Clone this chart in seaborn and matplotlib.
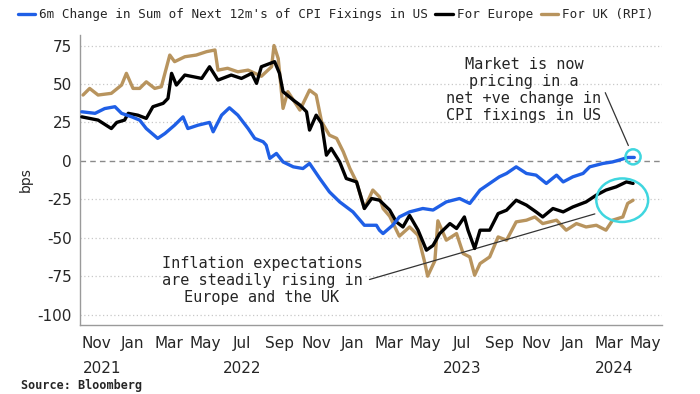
import pandas as pd
import matplotlib
matplotlib.use("Agg")
import matplotlib.pyplot as plt
import matplotlib.dates as mdates
from matplotlib.patches import Ellipse
import seaborn as sns

# 6m change in sum of next 12m CPI fixings (bps)
us_dates = ["2021-10-08", "2021-10-30", "2021-11-15", "2021-12-02", "2021-12-13", "2021-12-30",
            "2022-01-12", "2022-01-23", "2022-02-11", "2022-02-23", "2022-03-11", "2022-03-25",
            "2022-04-02", "2022-04-19", "2022-05-08", "2022-05-14", "2022-05-28", "2022-06-10",
            "2022-06-24", "2022-07-11", "2022-07-22", "2022-08-05", "2022-08-10", "2022-08-16",
            "2022-08-27", "2022-09-07", "2022-09-24", "2022-10-10", "2022-10-21", "2022-11-07",
            "2022-11-23", "2022-12-10", "2023-01-01", "2023-01-20", "2023-02-09", "2023-02-14",
            "2023-02-20", "2023-03-08", "2023-03-19", "2023-04-05", "2023-04-27", "2023-05-14",
            "2023-06-05", "2023-06-27", "2023-07-14", "2023-07-31", "2023-08-16", "2023-09-01",
            "2023-09-13", "2023-09-29", "2023-10-16", "2023-11-01", "2023-11-18", "2023-12-05",
            "2023-12-16", "2024-01-01", "2024-01-18", "2024-01-29", "2024-02-20", "2024-03-07",
            "2024-03-18", "2024-04-01", "2024-04-12"]
us_vals = [31.9, 30.9, 34.0, 35.2, 30.9, 28.6,
           26.5, 21.0, 14.6, 17.8, 23.2, 28.6,
           21.0, 23.2, 25.0, 18.9, 29.7, 34.5,
           29.7, 21.0, 14.6, 12.4, 10.2, 1.6,
           4.8, -0.7, -3.9, -5.0, -1.7, -11.5,
           -20.2, -26.7, -33.2, -41.9, -41.9, -45.1,
           -47.3, -41.9, -36.5, -33.2, -31.0, -32.0,
           -26.7, -24.5, -27.7, -19.0, -14.7, -10.4,
           -8.2, -3.9, -8.2, -9.3, -14.7, -9.3,
           -13.7, -10.4, -8.2, -3.9, -1.7, -0.7,
           0.5, 2.2, 2.2]

eu_dates = ["2021-10-08", "2021-11-04", "2021-11-26", "2021-12-05", "2021-12-18", "2021-12-24",
            "2022-01-09", "2022-01-23", "2022-02-03", "2022-02-20", "2022-02-28", "2022-03-06",
            "2022-03-14", "2022-03-28", "2022-04-25", "2022-05-08", "2022-05-22", "2022-06-13",
            "2022-06-30", "2022-07-17", "2022-07-25", "2022-08-02", "2022-08-24", "2022-09-01",
            "2022-09-07", "2022-09-24", "2022-10-05", "2022-10-16", "2022-10-21", "2022-11-01",
            "2022-11-10", "2022-11-18", "2022-11-26", "2022-12-10", "2022-12-21", "2023-01-07",
            "2023-01-20", "2023-02-01", "2023-02-14", "2023-03-03", "2023-03-14", "2023-03-25",
            "2023-04-05", "2023-04-19", "2023-05-03", "2023-05-14", "2023-05-25", "2023-06-11",
            "2023-06-22", "2023-07-05", "2023-07-11", "2023-07-22", "2023-07-31", "2023-08-16",
            "2023-08-30", "2023-09-13", "2023-09-29", "2023-10-16", "2023-11-01", "2023-11-12",
            "2023-11-29", "2023-12-16", "2024-01-01", "2024-01-23", "2024-02-09", "2024-02-25",
            "2024-03-13", "2024-03-30", "2024-04-10"]
eu_vals = [28.6, 26.5, 21.0, 25.0, 26.5, 30.9,
           29.7, 27.6, 35.2, 37.4, 40.6, 56.9,
           49.3, 55.8, 53.6, 61.2, 52.5, 55.8,
           53.6, 56.9, 50.4, 61.2, 64.5, 57.0,
           45.0, 39.5, 36.3, 31.9, 20.0, 29.7,
           24.3, 3.7, 8.1, -0.7, -11.5, -13.7,
           -31.0, -24.5, -25.6, -32.0, -39.7, -43.0,
           -35.5, -45.0, -58.1, -55.0, -47.3, -40.8,
           -44.0, -36.5, -45.1, -57.0, -45.1, -45.1,
           -34.3, -32.1, -25.6, -28.8, -33.2, -36.5,
           -31.0, -33.2, -30.0, -26.7, -22.3, -19.0,
           -16.9, -13.7, -14.7]

uk_dates = ["2021-10-10", "2021-10-21", "2021-11-04", "2021-11-26", "2021-12-13", "2021-12-21",
            "2022-01-01", "2022-01-12", "2022-01-23", "2022-02-06", "2022-02-17", "2022-03-03",
            "2022-03-11", "2022-03-28", "2022-04-16", "2022-05-03", "2022-05-17", "2022-05-22",
            "2022-06-07", "2022-06-24", "2022-07-11", "2022-08-02", "2022-08-19", "2022-08-23",
            "2022-08-30", "2022-09-07", "2022-09-15", "2022-10-05", "2022-10-21", "2022-11-01",
            "2022-11-10", "2022-11-23", "2022-12-05", "2022-12-16", "2022-12-27", "2023-01-07",
            "2023-01-20", "2023-02-03", "2023-02-14", "2023-02-20", "2023-03-03", "2023-03-19",
            "2023-04-05", "2023-04-19", "2023-04-30", "2023-05-05", "2023-05-17", "2023-05-22",
            "2023-06-05", "2023-06-22", "2023-07-03", "2023-07-14", "2023-07-22", "2023-07-31",
            "2023-08-16", "2023-08-30", "2023-09-13", "2023-09-29", "2023-10-16", "2023-10-30",
            "2023-11-12", "2023-12-05", "2023-12-21", "2024-01-07", "2024-01-23", "2024-02-09",
            "2024-02-25", "2024-03-07", "2024-03-24", "2024-04-01", "2024-04-10"]
uk_vals = [42.8, 47.1, 42.8, 43.9, 49.3, 56.9,
           47.1, 47.1, 51.4, 47.1, 48.2, 68.8,
           64.5, 67.7, 68.8, 71.0, 72.1, 59.0,
           60.2, 57.9, 59.0, 55.0, 61.2, 75.0,
           66.5, 34.1, 45.0, 33.0, 46.0, 42.8,
           25.4, 16.7, 14.6, 5.9, -5.0, -13.7,
           -31.0, -19.0, -23.4, -31.0, -36.0, -49.0,
           -43.0, -48.4, -65.8, -75.0, -65.0, -39.0,
           -51.6, -47.3, -60.3, -62.5, -74.4, -66.8,
           -62.5, -49.5, -51.6, -39.7, -38.6, -36.5,
           -40.8, -38.6, -45.1, -40.8, -43.0, -41.9,
           -45.1, -38.6, -36.5, -27.7, -25.6]

series_labels = ["6m Change in Sum of Next 12m's of CPI Fixings in US", "For Europe", "For UK (RPI)"]
series_colors = ["#1f5fe6", "#000000", "#b8945e"]
y_ticks = [75, 50, 25, 0, -25, -50, -75, -100]
year_labels = ["2021", "2022", "2023", "2024"]
year_pos = ["2021-11-10", "2022-07-01", "2023-07-01", "2024-03-10"]

df_us = pd.DataFrame({"date": pd.to_datetime(us_dates), "bps": us_vals})
df_eu = pd.DataFrame({"date": pd.to_datetime(eu_dates), "bps": eu_vals})
df_uk = pd.DataFrame({"date": pd.to_datetime(uk_dates), "bps": uk_vals})

sns.set_style("white")
plt.rcParams["axes.unicode_minus"] = False
plt.rcParams["font.family"] = ["DejaVu Sans"]

fig = plt.figure(figsize=(7.0, 3.94), dpi=100)
ax = fig.add_axes([0.1143, 0.175, 0.8314, 0.736])

# gridlines
for v in y_ticks:
    if v == 0:
        ax.axhline(v, color="#8a8a8a", lw=1.0, ls=(0, (4, 3)), zorder=1)
    else:
        ax.axhline(v, color="#c8c8c8", lw=0.9, ls=(0, (1, 2)), zorder=1)

sns.lineplot(data=df_uk, x="date", y="bps", color=series_colors[2], lw=2.4, label=series_labels[2], ax=ax, zorder=3)
sns.lineplot(data=df_eu, x="date", y="bps", color=series_colors[1], lw=2.4, label=series_labels[1], ax=ax, zorder=4)
sns.lineplot(data=df_us, x="date", y="bps", color=series_colors[0], lw=2.4, label=series_labels[0], ax=ax, zorder=5)

ax.set_xlim(pd.Timestamp("2021-10-05"), pd.Timestamp("2024-05-28"))
ax.set_ylim(-106.8, 81.8)
ax.set_yticks(y_ticks)
ax.set_xlabel("")
ax.set_ylabel("bps", fontsize=10, labelpad=3)

ax.xaxis.set_major_locator(mdates.MonthLocator(bymonth=[1, 3, 5, 7, 9, 11]))
ax.xaxis.set_major_formatter(mdates.DateFormatter("%b"))
ax.tick_params(axis="x", direction="in", length=3, color="#999999", labelsize=11, pad=8)
ax.tick_params(axis="y", length=0, labelsize=11, pad=6)

for s in ["top", "right"]:
    ax.spines[s].set_visible(False)
for s in ["left", "bottom"]:
    ax.spines[s].set_color("#9a9a9a")
    ax.spines[s].set_linewidth(1.0)

for lab, pos in zip(year_labels, year_pos):
    ax.text(pd.Timestamp(pos), -0.15, lab, transform=ax.get_xaxis_transform(),
            ha="center", va="center", fontsize=11)

# circles round the latest prints
ax.add_patch(Ellipse((mdates.date2num(pd.Timestamp("2024-04-10")), 2.6), 25, 9.8,
                     fill=False, ec="#3fd6df", lw=1.8, zorder=6))
ax.add_patch(Ellipse((mdates.date2num(pd.Timestamp("2024-03-23")), -25.6), 86, 28.3,
                     fill=False, ec="#3fd6df", lw=1.8, zorder=6))

mono = "DejaVu Sans Mono"
ax.annotate("", xy=(pd.Timestamp("2024-04-04"), 8.3), xytext=(pd.Timestamp("2024-02-22"), 46),
            arrowprops=dict(arrowstyle="-", color="#333333", lw=0.9))
ax.text(pd.Timestamp("2023-10-12"), 46, "Market is now\npricing in a\nnet +ve change in\nCPI fixings in US",
        ha="center", va="center", fontsize=11, family=mono, linespacing=1.15)

ax.annotate("", xy=(pd.Timestamp("2024-02-11"), -34), xytext=(pd.Timestamp("2023-01-24"), -77.7),
            arrowprops=dict(arrowstyle="-", color="#333333", lw=0.9))
ax.text(pd.Timestamp("2022-08-03"), -77.7, "Inflation expectations\nare steadily rising in\nEurope and the UK",
        ha="center", va="center", fontsize=11, family=mono, linespacing=1.15,
        bbox=dict(fc="white", ec="none", pad=0.5))

handles, labels = ax.get_legend_handles_labels()
order = [labels.index(l) for l in series_labels]
ax.get_legend().remove()
fig.legend([handles[i] for i in order], [labels[i] for i in order],
           loc="center left", bbox_to_anchor=(0.025, 0.962), ncol=3, frameon=False,
           prop={"family": mono, "size": 9.1}, handlelength=1.4, handletextpad=0.3,
           columnspacing=0.6, borderaxespad=0, borderpad=0)

fig.text(0.03, 0.004, "Source: Bloomberg", ha="left", va="bottom", fontsize=8.5,
         family=mono, fontweight="bold")

fig.savefig("out.png", dpi=100)
